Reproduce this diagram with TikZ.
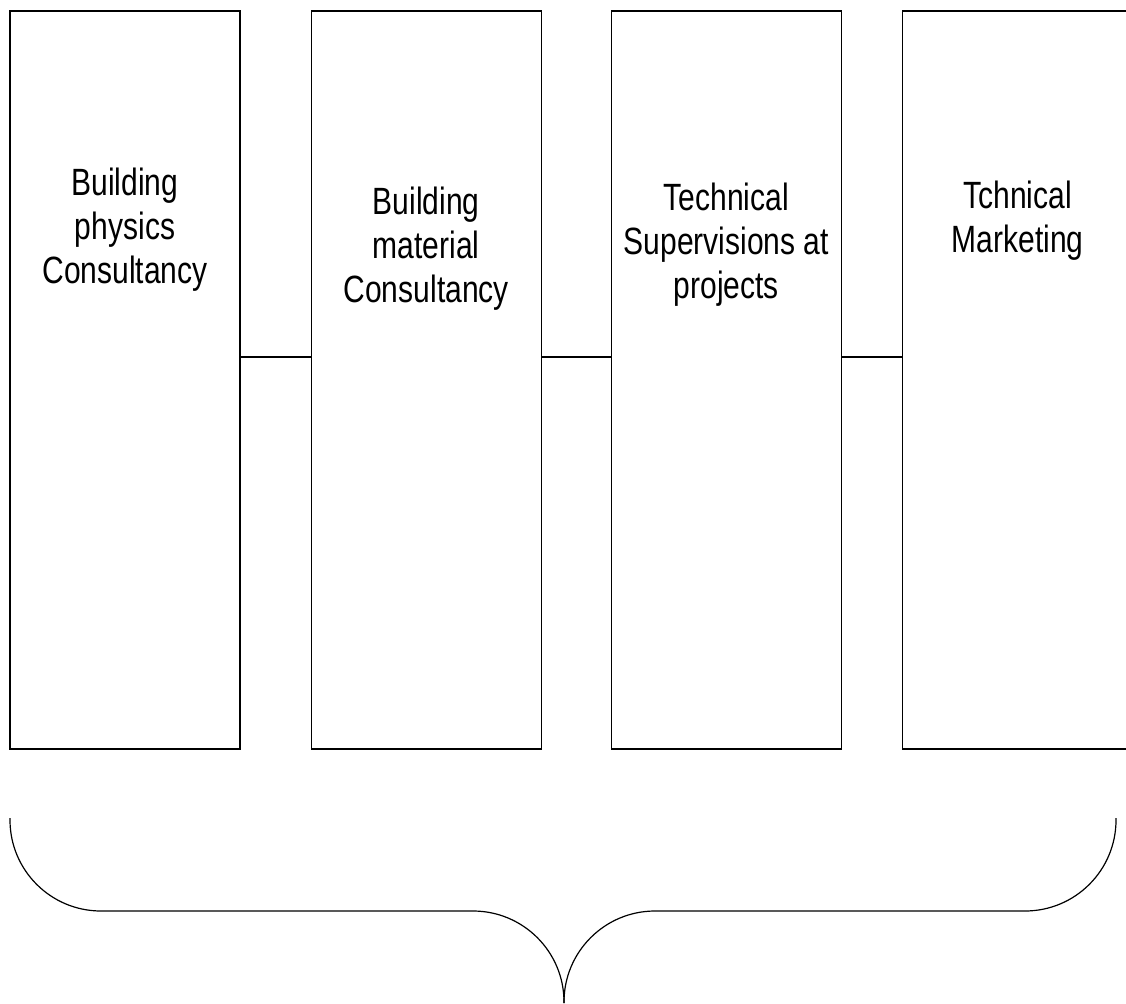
\documentclass[tikz,border=0pt]{standalone}
\usepackage{fontspec}
\setmainfont{Liberation Sans}[FakeStretch=0.79]
\usetikzlibrary{positioning}

\begin{document}
\begin{tikzpicture}[x=1pt,y=-1pt,
    unit/.style={draw,line width=1.2pt,minimum width=230pt,minimum height=738pt,inner sep=0pt},
    unitname/.style={align=center,inner sep=0pt,font=\fontsize{38}{44}\selectfont},
    link/.style={line width=1.2pt}]
  \useasboundingbox (0,0) rectangle (1126,1003);
  % the four service boxes
  \node [unit] (physics) at (125,380) {};
  \node [unit,right=70pt of physics] (material) {};
  \node [unit,right=69pt of material] (supervision) {};
  \node [unit,right=60pt of supervision] (marketing) {};
  \node [unitname,below=157pt of physics.north] (physicsname)
    {Building\\physics\\Consultancy};
  \node [unitname,below=176pt of material.north] (materialname)
    {Building\\material\\Consultancy};
  \node [unitname,below=172pt of supervision.north] (supervisionname)
    {Technical\\Supervisions at\\projects};
  \node [unitname,below=170pt of marketing.north] (marketingname)
    {Tchnical\\Marketing};
  \foreach \a/\b in {physics/material,material/supervision,supervision/marketing}
    \draw [link] ([yshift=23pt]\a.east) -- ([yshift=23pt]\b.west);
  % brace under the boxes
  \draw [link,rounded corners=91pt] (564,1003) -- (564,911) -- (10,911) -- (10,818);
  \draw [link,rounded corners=91pt] (564,1003) -- (564,911) -- (1116,911) -- (1116,818);
\end{tikzpicture}
\end{document}
